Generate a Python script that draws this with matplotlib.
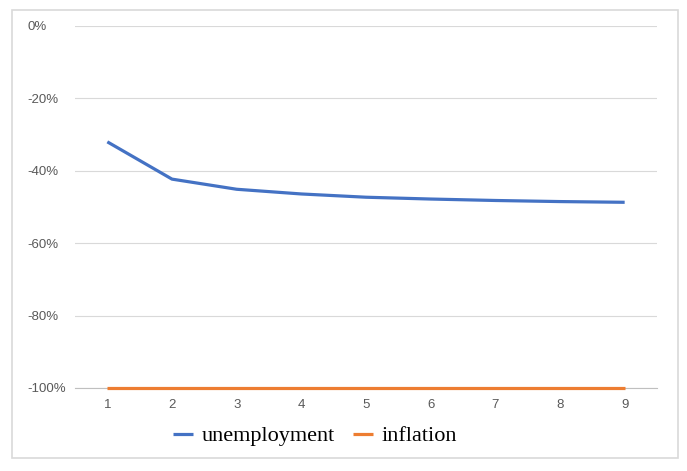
import matplotlib
matplotlib.use("Agg")
import matplotlib.pyplot as plt
from matplotlib.patches import Rectangle
from matplotlib.ticker import FuncFormatter

# Data (percent)
periods = [1, 2, 3, 4, 5, 6, 7, 8, 9]
unemployment = [-32.0, -42.3, -45.1, -46.4, -47.3, -47.8, -48.2, -48.5, -48.7]
inflation = [-100, -100, -100, -100, -100, -100, -100, -100, -100]
y_ticks = [0, -20, -40, -60, -80, -100]

fig = plt.figure(figsize=(6.87, 4.71), dpi=100)
ax = fig.add_axes([75 / 687, 1 - 388 / 471, (657 - 75) / 687, (388 - 26) / 471])

# outer chart border like Excel
fig.patches.append(Rectangle((12 / 687, 1 - 458 / 471), 666 / 687, 448 / 471,
                             transform=fig.transFigure, fill=False,
                             edgecolor="#d9d9d9", linewidth=1.2))

ax.plot(periods, unemployment, color="#4472C4", linewidth=2.3,
        label="unemployment", solid_capstyle="butt", zorder=5)
ax.plot(periods, inflation, color="#ED7D31", linewidth=2.3,
        label="inflation", solid_capstyle="butt", clip_on=False, zorder=5)

ax.set_xlim(0.5, 9.5)
ax.set_ylim(-100, 0)
ax.set_xticks(periods)
ax.set_yticks(y_ticks)
ax.yaxis.set_major_formatter(FuncFormatter(lambda v, p: f"{v:.0f}%"))

ax.grid(axis="y", color="#d9d9d9", linewidth=0.8)
ax.set_axisbelow(True)
for s in ["top", "right", "left"]:
    ax.spines[s].set_visible(False)
ax.spines["bottom"].set_color("#bfbfbf")
ax.spines["bottom"].set_zorder(1)

ax.tick_params(axis="both", length=0, colors="#595959", labelsize=9.5)
ax.tick_params(axis="y", pad=34)
ax.tick_params(axis="x", pad=8)
for lbl in ax.get_yticklabels():
    lbl.set_horizontalalignment("left")
    lbl.set_fontfamily("Liberation Sans")
for lbl in ax.get_xticklabels():
    lbl.set_fontfamily("Liberation Sans")

fig.legend(loc="center", bbox_to_anchor=(315 / 687, 1 - 436 / 471), ncol=2,
           frameon=False, prop={"family": "Liberation Serif", "size": 16},
           handlelength=0.9, handletextpad=0.4, columnspacing=0.8)

fig.savefig("out.png", dpi=100)
